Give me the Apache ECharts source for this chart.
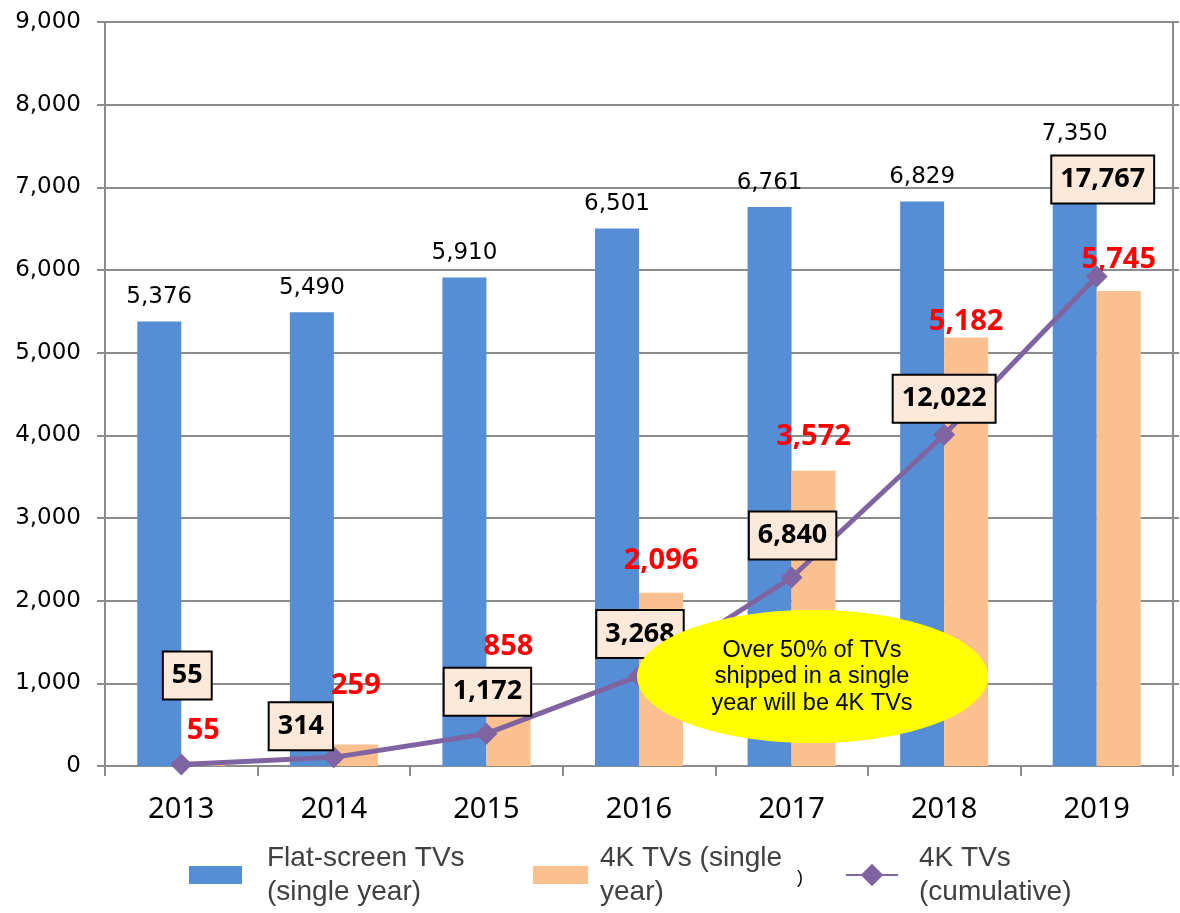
<!DOCTYPE html>
<html>
<head>
<meta charset="utf-8">
<style>
  html, body { margin: 0; padding: 0; background: #ffffff; }
  #chart { width: 1180px; height: 913px; }
</style>
<script src="https://cdn.jsdelivr.net/npm/echarts@6/dist/echarts.min.js"></script>
</head>
<body>
<div id="chart"></div>
<script>
// ---- data ----
const years = ['2013', '2014', '2015', '2016', '2017', '2018', '2019'];
const flatScreenSingle = [5376, 5490, 5910, 6501, 6761, 6829, 7350];
const fourKSingle = [55, 259, 858, 2096, 3572, 5182, 5745];
const fourKCumulative = [55, 314, 1172, 3268, 6840, 12022, 17767];
const seriesNames = ['Flat-screen TVs (single year)', '4K TVs (single year)', '4K TVs (cumulative)'];
const legendTexts = ['Flat-screen TVs\n(single year)', '4K TVs (single\nyear)', '4K TVs\n(cumulative)'];
const calloutText = 'Over 50% of TVs\nshipped in a single\nyear will be 4K TVs';

// ---- label placement (layout only) ----
const redLabelLift = [16, 44, 34, 17, 19, 1, 17];
const boxLabelOffset = [[6, -89], [-33, -31], [1, -42], [1, -42], [1, -42], [0, -36], [6, -97]];

const chart = echarts.init(document.getElementById('chart'));

const gridColor = '#8c8c8c';
const blue = '#558ED5';
const orange = '#FAC090';
const purple = '#8064A2';

const legendCommon = {
  top: 841,
  padding: 0,
  orient: 'horizontal',
  itemHeight: 18,
  selectedMode: false,
  textStyle: {
    fontFamily: 'Liberation Sans, Arial, sans-serif',
    fontSize: 28,
    lineHeight: 34,
    color: '#404040'
  }
};

const option = {
  animation: false,
  backgroundColor: '#ffffff',
  grid: { left: 105, right: 7, top: 22, bottom: 147, containLabel: false },
  legend: [
    Object.assign({}, legendCommon, {
      left: 189, itemWidth: 53, icon: 'rect', data: [seriesNames[0]],
      formatter: () => legendTexts[0],
      textStyle: Object.assign({}, legendCommon.textStyle, { padding: [0, 0, 0, 20] })
    }),
    Object.assign({}, legendCommon, {
      left: 533, itemWidth: 55, icon: 'rect', data: [seriesNames[1]],
      formatter: () => legendTexts[1],
      textStyle: Object.assign({}, legendCommon.textStyle, { padding: [0, 0, 0, 7] })
    }),
    Object.assign({}, legendCommon, {
      left: 845, itemWidth: 52, itemHeight: 28, data: [seriesNames[2]],
      formatter: () => legendTexts[2],
      textStyle: Object.assign({}, legendCommon.textStyle, { padding: [0, 0, 0, 16] })
    })
  ],
  xAxis: {
    type: 'category',
    data: years,
    boundaryGap: true,
    axisLine: { show: true, lineStyle: { color: gridColor, width: 2 } },
    axisTick: { show: true, length: 10, lineStyle: { color: gridColor, width: 2 } },
    axisLabel: {
      margin: 29,
      fontFamily: 'Noto Sans, sans-serif',
      fontSize: 29,
      color: '#000'
    },
    splitLine: { show: false }
  },
  yAxis: [
    {
      type: 'value',
      min: 0, max: 9000, interval: 1000,
      axisLine: { show: true, lineStyle: { color: gridColor, width: 2 } },
      axisTick: { show: true, length: 8, lineStyle: { color: gridColor, width: 2 } },
      axisLabel: {
        margin: 24,
        fontFamily: 'DejaVu Sans, sans-serif',
        fontSize: 23,
        color: '#000',
        formatter: v => v.toLocaleString('en-US')
      },
      splitLine: { show: true, lineStyle: { color: gridColor, width: 2 } }
    },
    {
      type: 'value',
      min: 0, max: 27000, interval: 3000,
      position: 'right',
      axisLine: { show: true, lineStyle: { color: gridColor, width: 2 } },
      axisTick: { show: true, length: 6, lineStyle: { color: gridColor, width: 2 } },
      axisLabel: { show: false },
      splitLine: { show: false }
    }
  ],
  series: [
    {
      name: seriesNames[0],
      type: 'bar',
      data: flatScreenSingle,
      barWidth: 44,
      barGap: '0%',
      itemStyle: { color: blue },
      label: {
        show: true,
        position: 'top',
        distance: 13,
        fontFamily: 'DejaVu Sans, sans-serif',
        fontSize: 23,
        color: '#000',
        formatter: p => p.value.toLocaleString('en-US')
      }
    },
    {
      name: seriesNames[1],
      type: 'bar',
      data: fourKSingle.map((v, i) => ({
        value: v,
        label: { distance: redLabelLift[i] }
      })),
      barWidth: 44,
      barGap: '0%',
      itemStyle: { color: orange },
      label: {
        show: true,
        position: 'top',
        fontFamily: 'Noto Sans, sans-serif',
        fontWeight: 'bold',
        fontSize: 29,
        color: '#FF0000',
        formatter: p => p.value.toLocaleString('en-US')
      }
    },
    {
      name: seriesNames[2],
      type: 'line',
      yAxisIndex: 1,
      data: fourKCumulative.map((v, i) => ({
        value: v,
        label: { offset: boxLabelOffset[i] }
      })),
      symbol: 'diamond',
      symbolSize: 22,
      lineStyle: { color: purple, width: 5 },
      itemStyle: { color: purple },
      z: 3,
      label: {
        show: true,
        position: 'inside',
        align: 'center',
        verticalAlign: 'middle',
        fontFamily: 'Noto Sans, sans-serif',
        fontWeight: 'bold',
        fontSize: 27,
        lineHeight: 30,
        color: '#000',
        backgroundColor: '#FDE9D9',
        borderColor: '#000',
        borderWidth: 2,
        padding: [8, 8, 8, 8],
        formatter: p => p.value.toLocaleString('en-US')
      }
    }
  ],
  graphic: [
    {
      type: 'ellipse',
      z: 100,
      shape: { cx: 812.5, cy: 676.5, rx: 175.5, ry: 66.5 },
      style: { fill: '#FFFF00', stroke: null }
    },
    {
      type: 'text',
      z: 101,
      x: 812, y: 677,
      style: {
        text: calloutText,
        fontFamily: 'Liberation Sans, Arial, sans-serif',
        fontSize: 23.5,
        lineHeight: 26.5,
        fill: '#000',
        align: 'center',
        verticalAlign: 'middle'
      }
    },
    {
      type: 'text',
      z: 101,
      x: 797, y: 878,
      style: {
        text: ')',
        fontFamily: 'Liberation Sans, Arial, sans-serif',
        fontSize: 18,
        fill: '#000',
        align: 'left',
        verticalAlign: 'middle'
      }
    }
  ]
};

chart.setOption(option);
</script>
</body>
</html>
